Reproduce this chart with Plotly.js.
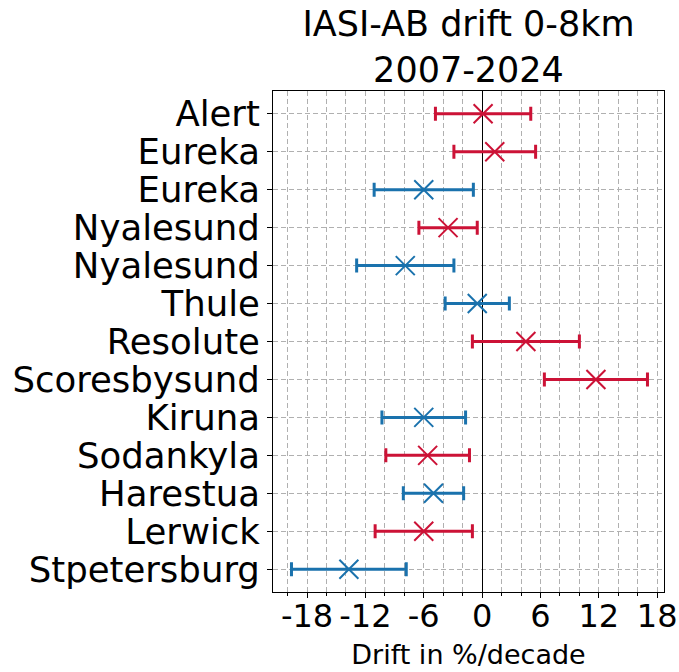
<!DOCTYPE html>
<html>
<head>
<meta charset="utf-8">
<script src="https://cdn.plot.ly/plotly-3.0.1.min.js"></script>
<style>html,body{margin:0;padding:0;background:#fff;}#chart{width:679px;height:672px;}</style>
</head>
<body>
<div id="chart"></div>
<script>
const stations = ["Alert","Eureka","Eureka","Nyalesund","Nyalesund","Thule","Resolute","Scoresbysund","Kiruna","Sodankyla","Harestua","Lerwick","Stpetersburg"];
const drift = [0.1, 1.3, -6.0, -3.5, -7.9, -0.5, 4.5, 11.7, -6.0, -5.6, -5.0, -6.0, -13.7];
const driftErr = [4.9, 4.2, 5.1, 3.0, 5.0, 3.3, 5.5, 5.3, 4.3, 4.3, 3.1, 5.0, 5.9];
const group = ["red","red","blue","red","blue","blue","red","red","blue","red","blue","red","blue"];
const xTicks = [-18, -12, -6, 0, 6, 12, 18];

const palette = {red: "#cc1236", blue: "#1a72ad"};
const rows = stations.map((s, i) => i);

const traces = ["red", "blue"].map(g => {
  const idx = rows.filter(i => group[i] === g);
  return {
    type: "scatter",
    mode: "markers",
    x: idx.map(i => drift[i]),
    y: idx,
    error_x: {type: "data", array: idx.map(i => driftErr[i]), visible: true,
              color: palette[g], thickness: 3, width: 7},
    marker: {symbol: "x-thin-open", size: 19, color: palette[g],
             line: {color: palette[g], width: 2}},
    showlegend: false,
    hoverinfo: "skip"
  };
});

const font = "DejaVu Sans, sans-serif";
const grid = "#b0b0b0";
const layout = {
  width: 679, height: 672,
  margin: {l: 273, r: 15, t: 91, b: 80},
  paper_bgcolor: "#fff", plot_bgcolor: "#fff",
  font: {family: font, color: "#000"},
  title: {text: "IASI-AB drift 0-8km<br>2007-2024", font: {family: font, size: 35, color: "#000"},
          x: 0.5, xref: "paper", xanchor: "center", y: 0.952, yref: "container", yanchor: "top",
          pad: {t: 4}},
  xaxis: {
    range: [-21.5, 18.7],
    tickmode: "array", tickvals: xTicks, ticktext: xTicks.map(String),
    ticks: "outside", ticklen: 5, tickwidth: 1, tickcolor: "#000",
    tickfont: {family: font, size: 32},
    ticklabelstandoff: -9,
    showgrid: true, gridcolor: grid, griddash: "5px,3px", gridwidth: 1,
    minor: {dtick: 2, tick0: 0, ticks: "outside", ticklen: 3, tickcolor: "#000",
            showgrid: true, gridcolor: grid, griddash: "5px,3px", gridwidth: 1},
    zeroline: true, zerolinecolor: "#000", zerolinewidth: 1,
    showline: true, mirror: true, linecolor: "#000", linewidth: 1,
    title: {text: "Drift in %/decade", font: {family: font, size: 27}, standoff: 10}
  },
  yaxis: {
    range: [12.6, -0.6],
    tickmode: "array", tickvals: rows, ticktext: stations,
    ticks: "outside", ticklen: 5, tickwidth: 1, tickcolor: "#000",
    tickfont: {family: font, size: 35.5},
    showgrid: true, gridcolor: grid, griddash: "5px,3px", gridwidth: 1,
    zeroline: false,
    showline: true, mirror: true, linecolor: "#000", linewidth: 1
  }
};

Plotly.newPlot("chart", traces, layout, {staticPlot: true});
</script>
</body>
</html>
